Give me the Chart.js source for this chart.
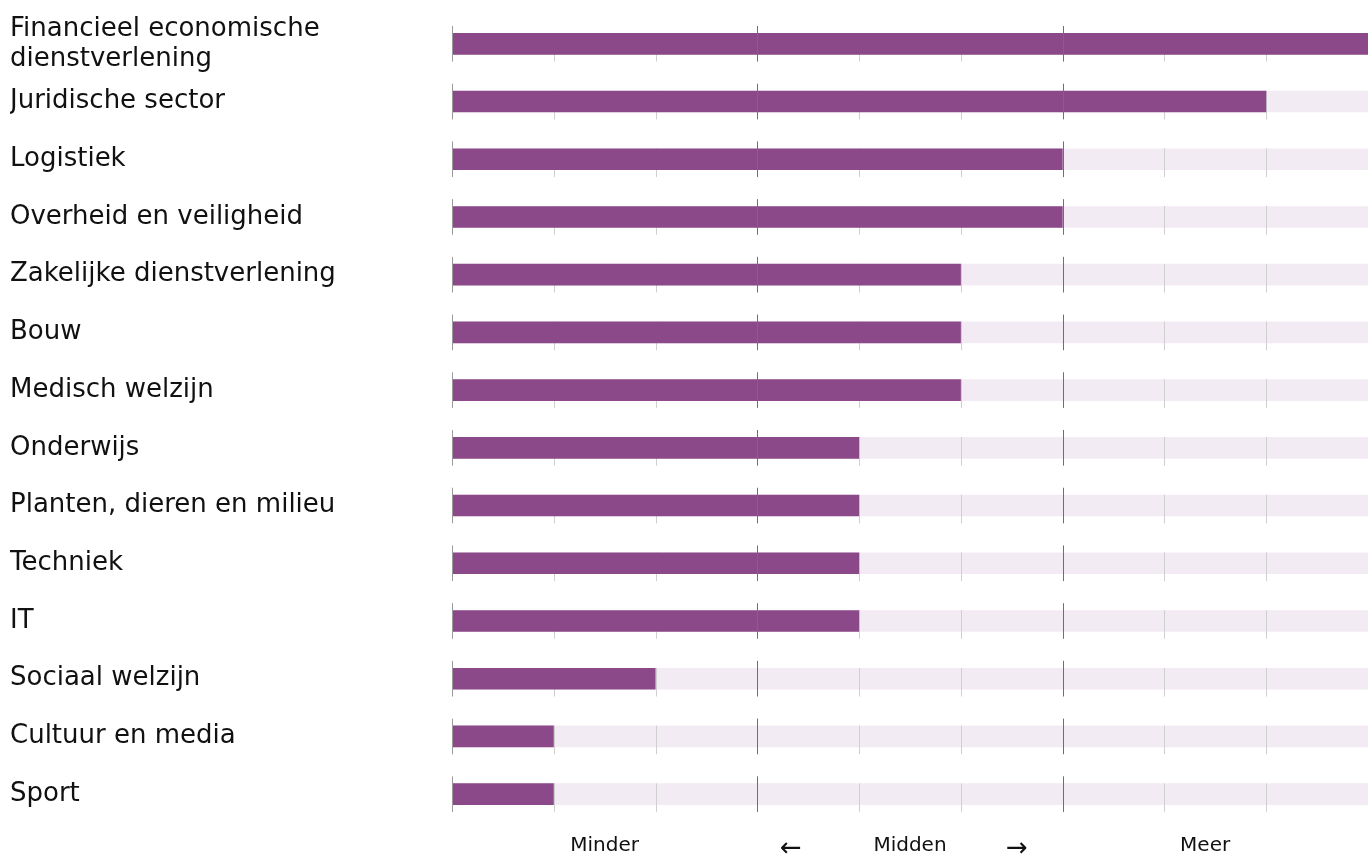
<!doctype html>
<html lang="nl">
  <head>
    <meta charset="utf-8">
    <title>Sectoren</title>
    <style>
      * {
        margin: 0;
        padding: 0;
      }
      body {
        background: #ffffff;
      }
      .chartBox {
        width: 1368px;
        height: 854px;
      }
    </style>
  </head>
  <body>
    <div class="chartBox">
      <canvas id="myChart"></canvas>
    </div>

    <script src="https://cdn.jsdelivr.net/npm/chart.js"></script>

    <script>
const categories = [
  ['Financieel economische', 'dienstverlening'],
  'Juridische sector',
  'Logistiek',
  'Overheid en veiligheid',
  'Zakelijke dienstverlening',
  'Bouw',
  'Medisch welzijn',
  'Onderwijs',
  'Planten, dieren en milieu',
  'Techniek',
  'IT',
  'Sociaal welzijn',
  'Cultuur en media',
  'Sport'
];
const scores = [9, 8, 6, 6, 5, 5, 5, 4, 4, 4, 4, 2, 1, 1];
const maxScore = 9;
const trackValues = categories.map(() => maxScore);

// labels under the chart
const tickValues = [1.5, 3.33, 4.5, 5.55, 7.4];
const tickLabels = ['Minder', '\u2190', 'Midden', '\u2192', 'Meer'];

const majorLines = [0, 3, 6];

// short tick marks on every row
const rowTicks = {
  id: 'rowTicks',
  beforeDatasetDraw(chart, args) {
    if (args.index !== 0) return;
    drawTicks(chart, false);
  },
  afterDatasetsDraw(chart) {
    drawTicks(chart, true);
  }
};

function drawTicks(chart, major) {
  const ctx = chart.ctx;
  const x = chart.scales.x;
  const bars = chart.getDatasetMeta(0).data;
  ctx.save();
  ctx.lineWidth = 1;
  bars.forEach(bar => {
    const top = bar.y - bar.height / 2;
    const bottom = bar.y + bar.height / 2;
    for (let v = 0; v < maxScore; v++) {
      const isMajor = majorLines.includes(v);
      if (isMajor !== major) continue;
      const px = Math.round(x.getPixelForValue(v)) + 0.5;
      ctx.strokeStyle = isMajor ? (v === 0 ? '#9a9a9a' : '#6f6f6f') : '#cfcfcf';
      ctx.beginPath();
      ctx.moveTo(px, isMajor ? top - 7 : top);
      ctx.lineTo(px, bottom + 7);
      ctx.stroke();
    }
  });
  ctx.restore();
}

const data = {
  labels: categories,
  datasets: [
    {
      label: 'Score',
      data: scores,
      backgroundColor: '#8b4989',
      grouped: false,
      order: 0
    },
    {
      label: 'Maximum',
      data: trackValues,
      backgroundColor: '#f3ebf3',
      grouped: false,
      order: 1
    }
  ]
};

const config = {
  type: 'bar',
  data,
  options: {
    indexAxis: 'y',
    responsive: true,
    maintainAspectRatio: false,
    animation: false,
    layout: {
      padding: { left: 10, top: 3, right: 0, bottom: 0 }
    },
    datasets: {
      bar: {
        barPercentage: 0.375,
        categoryPercentage: 1
      }
    },
    plugins: {
      legend: { display: false },
      tooltip: { enabled: false }
    },
    scales: {
      x: {
        min: 0,
        max: maxScore,
        grid: { display: false },
        border: { display: false },
        afterBuildTicks: scale => {
          scale.ticks = tickValues.map(v => ({ value: v }));
        },
        afterFit: scale => {
          scale.height = 31;
        },
        ticks: {
          autoSkip: false,
          maxRotation: 0,
          padding: 3,
          color: '#111',
          font: c => ({
            family: 'DejaVu Sans',
            size: (tickLabels[c.index] || '').length === 1 ? 26 : 20,
            lineHeight: 1.2
          }),
          callback: (v, i) => tickLabels[i]
        }
      },
      y: {
        grid: { display: false },
        border: { display: false },
        afterFit: scale => {
          scale.width = 442;
        },
        ticks: {
          autoSkip: false,
          crossAlign: 'far',
          padding: 0,
          color: '#111',
          font: { family: 'DejaVu Sans', size: 26, lineHeight: 1.15 }
        }
      }
    }
  },
  plugins: [rowTicks]
};

const myChart = new Chart(
  document.getElementById('myChart'),
  config
);
    </script>
  </body>
</html>
